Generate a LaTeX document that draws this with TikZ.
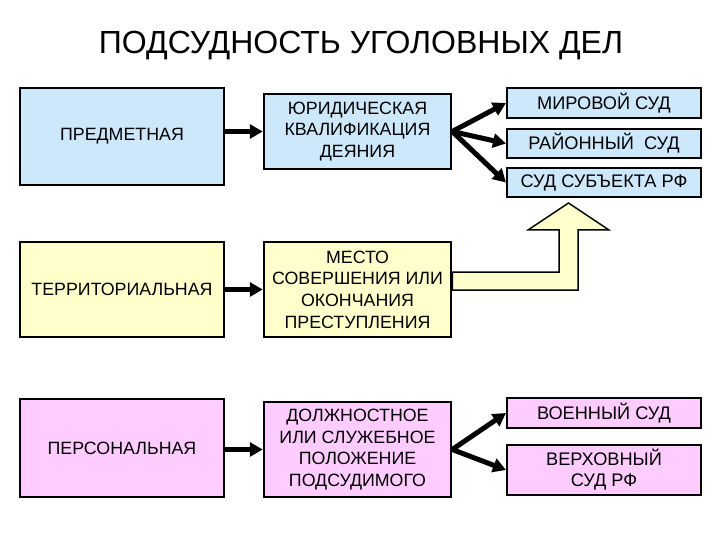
\documentclass[tikz,border=0pt]{standalone}
\usepackage{fontspec}
\setmainfont{Liberation Sans}
\usetikzlibrary{arrows.meta,calc}
\definecolor{bluef}{HTML}{CCE8FA}
\definecolor{yelf}{HTML}{FFFFCC}
\definecolor{pinkf}{HTML}{FFCCFF}
\begin{document}
\begin{tikzpicture}[x=1pt,y=-1pt,
 box/.style={draw=black,line width=2.5pt,align=center,inner sep=0pt,font=\fontsize{17.8}{21.7}\selectfont},
 lbox/.style={box,minimum width=204pt},
 mbox/.style={box,minimum width=187pt},
 rbox/.style={draw=black,line width=2pt,align=center,inner sep=0pt,minimum width=194pt,font=\fontsize{18.2}{21}\selectfont},
 conn/.style={line width=5pt,-{Triangle[length=13pt,width=14pt]}},
 hollow/.style={draw=black,line width=1.5pt,fill=yelf,line join=miter}
]
\useasboundingbox[fill=white] (0,0) rectangle (720,540);

\node[font=\fontsize{32}{36}\selectfont] (title) at (361,46) {ПОДСУДНОСТЬ УГОЛОВНЫХ ДЕЛ};

% row 1
\node[lbox,fill=bluef,minimum height=97pt] (pred) at (122,136.5) {ПРЕДМЕТНАЯ};
\node[mbox,fill=bluef,minimum height=75pt] (jur) at (357.5,131.5) {ЮРИДИЧЕСКАЯ\\КВАЛИФИКАЦИЯ\\ДЕЯНИЯ};
\node[rbox,fill=bluef,minimum height=30pt] (mir) at (604,103) {МИРОВОЙ СУД};
\node[rbox,fill=bluef,minimum height=29pt] (ray) at (604,143.5) {РАЙОННЫЙ\ \ СУД};
\node[rbox,fill=bluef,minimum height=29pt] (subj) at (604,182.5) {СУД СУБЪЕКТА РФ};

% row 2
\node[lbox,fill=yelf,minimum height=95pt] (terr) at (122,289.5) {ТЕРРИТОРИАЛЬНАЯ};
\node[mbox,fill=yelf,minimum height=95pt] (mesto) at (357.5,289.5) {МЕСТО\\СОВЕРШЕНИЯ ИЛИ\\ОКОНЧАНИЯ\\ПРЕСТУПЛЕНИЯ};

% row 3
\node[lbox,fill=pinkf,minimum height=98pt] (pers) at (122,448) {ПЕРСОНАЛЬНАЯ};
\node[mbox,fill=pinkf,minimum height=95pt] (dolzh) at (357.5,449.5) {ДОЛЖНОСТНОЕ\\ИЛИ СЛУЖЕБНОЕ\\ПОЛОЖЕНИЕ\\ПОДСУДИМОГО};
\node[rbox,fill=pinkf,minimum height=30pt] (voen) at (604,413) {ВОЕННЫЙ СУД};
\node[rbox,fill=pinkf,minimum height=50pt] (verh) at (604,470) {ВЕРХОВНЫЙ\\СУД РФ};

% connectors
\draw[conn] (pred.east |- jur.west) -- (jur.west);
\draw[conn] (terr.east |- mesto.west) -- (mesto.west);
\draw[conn] (pers.east |- dolzh.west) -- (dolzh.west);

\draw[conn] (jur.east) -- (mir.west);
\draw[conn] (jur.east) -- (ray.west);
\draw[conn] (jur.east) -- (subj.west);
\draw[conn] (dolzh.east) -- (voen.west);
\draw[conn] (dolzh.east) -- (verh.west);

% hollow arrow
\coordinate (bt) at (0,272);
\coordinate (bb) at (0,290);
\draw[hollow] (mesto.east |- bt) -- (559,272) -- (559,230) -- (528,230) -- (568.5,203)
  -- (609,230) -- (578,230) -- (578,290) -- (mesto.east |- bb) -- cycle;
\end{tikzpicture}
\end{document}
